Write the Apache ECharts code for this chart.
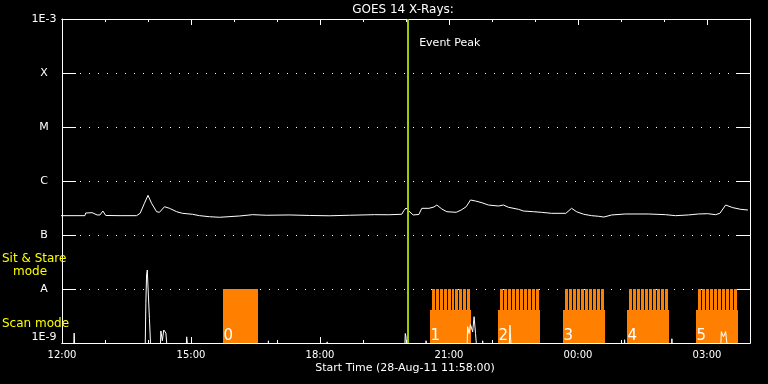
<!DOCTYPE html>
<html><head><meta charset="utf-8">
<script src="https://cdn.jsdelivr.net/npm/echarts@6/dist/echarts.min.js"></script>
<style>html,body{margin:0;padding:0;background:#000;}#c{width:768px;height:384px;}</style>
</head><body><div id="c"></div>
<script>
// ---------- data ----------
const chartTitle = 'GOES 14 X-Rays:';
const xAxisTitle = 'Start Time (28-Aug-11 11:58:00)';
const yTickLabels = ['1E-9', 'A', 'B', 'C', 'M', 'X', '1E-3']; // exponents -9 .. -3
const modeLabels = ['Sit & Stare', 'mode', 'Scan mode'];
const eventLabel = 'Event Peak';
const eventPeakTime = '20:03';

// GOES long channel (1-8 A)
const longTimes = ['11:58','12:32','12:33','12:42','12:49','12:53','12:57','13:01','13:21','13:44','13:49','13:55','14:00','14:05','14:12','14:16','14:23','14:30','14:40','14:48','15:02','15:12','15:26','15:40','16:08','16:26','16:45','17:17','17:45','18:13','18:41','19:16','19:36','19:54','19:57','20:00','20:04','20:10','20:18','20:22','20:32','20:39','20:43','20:50','20:57','21:10','21:17','21:24','21:30','21:37','21:46','21:55','22:09','22:16','22:23','22:37','22:44','22:58','23:09','23:23','23:43','23:51','23:58','00:08','00:19','00:29','00:36','00:47','01:06','01:38','02:02','02:16','02:34','02:48','03:01','03:12','03:18','03:26','03:36','03:47','03:57'];
const longValues = [2.28e-7,2.28e-7,2.55e-7,2.59e-7,2.35e-7,2.35e-7,2.78e-7,2.30e-7,2.28e-7,2.28e-7,2.52e-7,3.86e-7,5.43e-7,3.86e-7,2.70e-7,2.63e-7,3.34e-7,3.12e-7,2.70e-7,2.52e-7,2.42e-7,2.28e-7,2.18e-7,2.13e-7,2.25e-7,2.38e-7,2.32e-7,2.35e-7,2.30e-7,2.27e-7,2.32e-7,2.38e-7,2.37e-7,2.42e-7,2.82e-7,3.16e-7,2.78e-7,2.35e-7,2.40e-7,3.12e-7,3.12e-7,3.30e-7,3.59e-7,3.03e-7,2.70e-7,2.63e-7,2.90e-7,3.34e-7,4.45e-7,4.26e-7,3.96e-7,3.59e-7,3.44e-7,3.59e-7,3.26e-7,2.99e-7,2.78e-7,2.70e-7,2.63e-7,2.52e-7,2.52e-7,3.12e-7,2.70e-7,2.42e-7,2.28e-7,2.22e-7,2.15e-7,2.35e-7,2.45e-7,2.45e-7,2.38e-7,2.28e-7,2.35e-7,2.45e-7,2.48e-7,2.38e-7,2.52e-7,3.59e-7,3.21e-7,2.99e-7,2.90e-7];

// GOES short channel (0.5-4 A)
const shortTimes = ['11:58','12:16','12:17','12:18','13:56','13:57','13:58','13:59','14:00','14:02','14:04','14:17','14:18','14:20','14:22','14:25','14:27','14:53','14:54','14:56','16:47','16:48','16:49','18:09','18:10','18:11','19:58','19:59','20:00','20:01','20:27','20:28','20:29','21:25','21:26','21:28','21:30','21:33','21:35','21:37','21:39','21:46','21:47','21:48','22:24','22:25','22:27','01:04','01:05','01:06','02:10','02:11','02:12','03:19','03:20','03:23','03:26','03:29','03:57'];
const shortValues = [7e-10,7e-10,1.53e-9,7e-10,7e-10,5.3e-9,1.82e-8,2.25e-8,1.09e-8,2.82e-9,7e-10,7e-10,1.67e-9,1.1e-9,1.74e-9,1.53e-9,7e-10,7e-10,1.3e-9,7e-10,7e-10,1.1e-9,7e-10,7e-10,1.05e-9,7e-10,7e-10,1.5e-9,1.3e-9,7e-10,7e-10,1.1e-9,7e-10,7e-10,2.0e-9,1.5e-9,2.2e-9,1.6e-9,3.07e-9,1.5e-9,7e-10,7e-10,1.1e-9,7e-10,7e-10,2.15e-9,7e-10,7e-10,1.15e-9,7e-10,7e-10,1.2e-9,7e-10,7e-10,1.62e-9,1.3e-9,1.62e-9,7e-10,7e-10];

// observing blocks
const scanStart = ['15:45','20:33','22:09','23:39','01:08','02:44'];
const scanEnd   = ['16:33','21:31','23:07','00:38','02:07','03:43'];
const scanLabels = ['0','1','2','3','4','5'];
const scanSolidTop = [1e-8, 4.1e-9, 4.1e-9, 4.1e-9, 4.1e-9, 4.1e-9];
const scanRasters = [0, 10, 10, 10, 10, 10];
const rasterTop = 1e-8;
const yMin = 1e-9, yMax = 1e-3;

// ---------- chart ----------
function parseT(s){ const p = s.split(':').map(Number); let v = p[0] + p[1]/60; if (p[0] < 11) v += 24; return v; }
const FONT = 'DejaVu Sans';
const ORANGE = '#ff8000';
const chart = echarts.init(document.getElementById('c'), null, {renderer:'canvas'});

function xAx(pos, interval, len, labels){
  return {
    type:'value', min:12, max:28, interval:interval, position:pos, gridIndex:0,
    axisLine:{show:true, lineStyle:{color:'#fff', width:1}},
    axisTick:{show:true, inside:true, length:len, lineStyle:{color:'#fff', width:1}},
    axisLabel:{show:labels, color:'#fff', fontSize:10, fontFamily:FONT, margin:7, showMaxLabel:false,
      formatter: v => { const h = Math.round(v) % 24; return (h < 10 ? '0' : '') + h + ':00'; }},
    splitLine:{show:false}, minorTick:{show:false}
  };
}
function yAx(pos, labels, split){
  return {
    type:'log', logBase:10, min:yMin, max:yMax, splitNumber:6, position:pos, gridIndex:0,
    axisLine:{show:true, lineStyle:{color:'#fff', width:1}},
    axisTick:{show:true, inside:true, length:14, lineStyle:{color:'#fff', width:1}},
    axisLabel:{show:labels, color:'#fff', fontSize:11, fontFamily:FONT, margin:18, align:'center',
      verticalAlignMaxLabel:'top', verticalAlignMinLabel:'bottom',
      formatter: v => yTickLabels[Math.round(Math.log10(v)) + 9] || ''},
    splitLine:{show:split, lineStyle:{color:'#fff', width:1, type:[1,8]}},
    minorTick:{show:false}, minorSplitLine:{show:false}
  };
}

const option = {
  backgroundColor:'#000',
  animation:false,
  grid:{left:62, right:18, top:19, bottom:41, containLabel:false},
  xAxis:[xAx('bottom',3,6,true), xAx('bottom',1,3,false), xAx('top',3,6,false), xAx('top',1,3,false)],
  yAxis:[yAx('left',true,true), yAx('right',false,false)],
  series:[
    {
      type:'custom', name:'scan', xAxisIndex:0, yAxisIndex:0, z:1,
      data: scanStart.map((s,i) => [parseT(s), parseT(scanEnd[i]), scanSolidTop[i], scanRasters[i], i]),
      encode:{x:[0,1], y:2},
      renderItem:function(params, api){
        const s = api.value(0), e = api.value(1), top = api.value(2), n = api.value(3), idx = api.value(4);
        const p0 = api.coord([s, yMin]);
        const p1 = api.coord([e, top]);
        const x0 = Math.round(p0[0]), x1 = Math.round(p1[0]);
        const yb = Math.round(p0[1]), ys = Math.round(p1[1]);
        const children = [{type:'rect', shape:{x:x0, y:ys, width:x1-x0, height:yb-ys}, style:{fill:ORANGE}}];
        if (n > 0) {
          const yt = Math.round(api.coord([s, rasterTop])[1]);
          const sx = x0 + 2;
          const w = (x1 - sx) / n;
          for (let k = 0; k < n; k++) {
            const a = Math.round(sx + k*w), b = Math.round(sx + (k+1)*w) - 1;
            children.push({type:'rect', shape:{x:a, y:yt, width:b-a, height:ys-yt+1}, style:{fill:ORANGE}});
          }
        }
        children.push({type:'text', x:x0+0.5, y:yb+0.5, style:{text:scanLabels[idx], fill:'#fff', font:'15px '+FONT, align:'left', verticalAlign:'bottom'}});
        return {type:'group', children:children};
      }
    },
    {
      type:'line', name:'short', xAxisIndex:0, yAxisIndex:0, z:3,
      data: shortTimes.map((t,i) => [parseT(t), shortValues[i]]),
      showSymbol:false, symbol:'none', lineStyle:{color:'#fff', width:1}, clip:true
    },
    {
      type:'line', name:'long', xAxisIndex:0, yAxisIndex:0, z:3,
      data: longTimes.map((t,i) => [parseT(t), longValues[i]]),
      showSymbol:false, symbol:'none', lineStyle:{color:'#fff', width:1}, clip:true,
      markLine:{silent:true, symbol:['none','none'], label:{show:false},
        lineStyle:{color:'#9ccc00', width:2, type:'solid'},
        data:[{xAxis: parseT(eventPeakTime)}]}
    }
  ]
};
chart.setOption(option);

const px = chart.convertToPixel({xAxisIndex:0}, parseT(eventPeakTime));
function txt(t, x, y, color, size, align){
  return {type:'text', x:x, y:y, z:10, style:{text:t, fill:color, font:size+'px '+FONT, textAlign:align, textVerticalAlign:'middle', align:align, verticalAlign:'middle'}};
}
chart.setOption({graphic:[
  txt(chartTitle, 403, 10, '#fff', 12, 'center'),
  txt(xAxisTitle, 405, 368, '#fff', 11, 'center'),
  txt(eventLabel, px + 11, 43, '#fff', 11, 'left'),
  txt(modeLabels[0], 2, 259, '#ffff00', 12, 'left'),
  txt(modeLabels[1], 13, 272, '#ffff00', 12, 'left'),
  txt(modeLabels[2], 2, 324, '#ffff00', 12, 'left')
]});
</script>
</body></html>
